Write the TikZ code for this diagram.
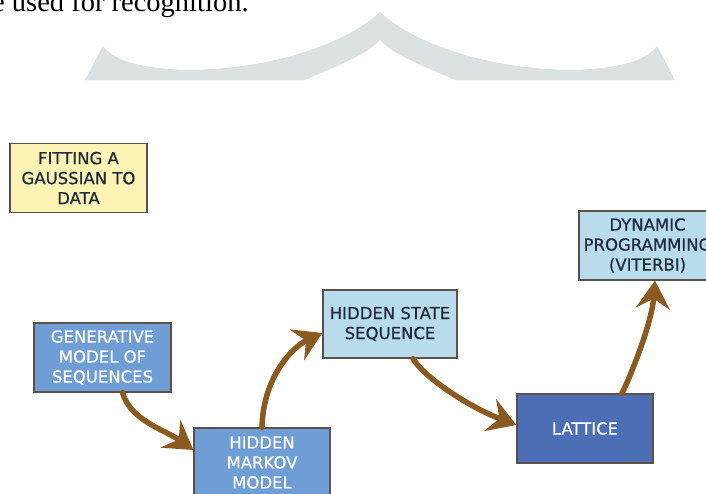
\documentclass[tikz,border=0pt]{standalone}
\usepackage{fontspec}
\setmainfont{Liberation Serif}
\newfontfamily\boxfont[FakeBold=0.6]{DejaVu Sans}
\usetikzlibrary{arrows.meta}
\definecolor{bandgray}{HTML}{DCE2E4}
\definecolor{yellowfill}{HTML}{FDF3B4}
\definecolor{midblue}{HTML}{6F9ED6}
\definecolor{lightblue}{HTML}{B8DCEC}
\definecolor{darkblue}{HTML}{4B6EB5}
\definecolor{boxborder}{HTML}{5E5048}
\definecolor{arrowbrown}{HTML}{8B5A1E}
\definecolor{navytext}{HTML}{1F2B3D}
\tikzset{
  box/.style={draw=boxborder, line width=1.3pt, minimum width=137pt, minimum height=69pt,
    align=center, inner sep=0pt, font=\boxfont\fontsize{16.5}{20}\selectfont},
  yellowbox/.style={box, fill=yellowfill, text=navytext},
  midbox/.style={box, fill=midblue, text=white},
  lightbox/.style={box, fill=lightblue, text=navytext},
  darkbox/.style={box, fill=darkblue, text=white},
  flow/.style={draw=arrowbrown, line width=5.5pt, line cap=round,
    -{Stealth[length=28pt,width=34pt,inset=10pt]}}
}
\begin{document}
\begin{tikzpicture}[x=1pt,y=-1pt]
\useasboundingbox (0,0) rectangle (706,493);
\clip (0,0) rectangle (706,493);
\fill[white] (0,0) rectangle (706,493);

% decorative gray band
\fill[bandgray] (85,80) -- (103,46) .. controls (130,86) and (310,76) .. (380,12)
  .. controls (450,76) and (630,86) .. (657,46) -- (675,80) -- (455,80)
  .. controls (420,64) and (395,56) .. (380,40)
  .. controls (365,56) and (340,64) .. (305,80) -- cycle;

% cropped text line at the top
\node[anchor=base west, inner sep=0pt, font=\fontsize{28.5}{30}\selectfont] (toptext) at (-8,11) {e used for recognition.};

% boxes
\node[yellowbox] (fit) at (78.5,178) {FITTING A\\GAUSSIAN TO\\DATA};
\node[midbox] (gen) at (102.5,357.5) {GENERATIVE\\MODEL OF\\SEQUENCES};
\node[midbox, minimum width=136pt] (hmm) at (262,462.5) {HIDDEN\\MARKOV\\MODEL};
\node[lightbox, minimum width=134pt, minimum height=68pt] (hs) at (390,324) {HIDDEN STATE\\SEQUENCE};
\node[darkbox, minimum width=136pt] (lat) at (585,428.5) {LATTICE};
\node[lightbox] (dyn) at (647.5,245.5) {DYNAMIC\\PROGRAMMING\\(VITERBI)};

% connectors
\draw[flow] ([xshift=20pt]gen.south) .. controls +(8,28) and +(-28,-20) .. ([yshift=12.5pt]hmm.west);
\draw[flow] (hmm.north) .. controls +(1,-50) and +(-30,14) .. ([yshift=-9pt]hs.west);
\draw[flow] ([xshift=23pt]hs.south) .. controls +(12,20) and +(-45,-17) .. ([yshift=3.5pt]lat.west);
\draw[flow] ([xshift=37pt]lat.north) .. controls +(12,-25) and +(-3,40) .. ([xshift=7.5pt]dyn.south);
\end{tikzpicture}
\end{document}
